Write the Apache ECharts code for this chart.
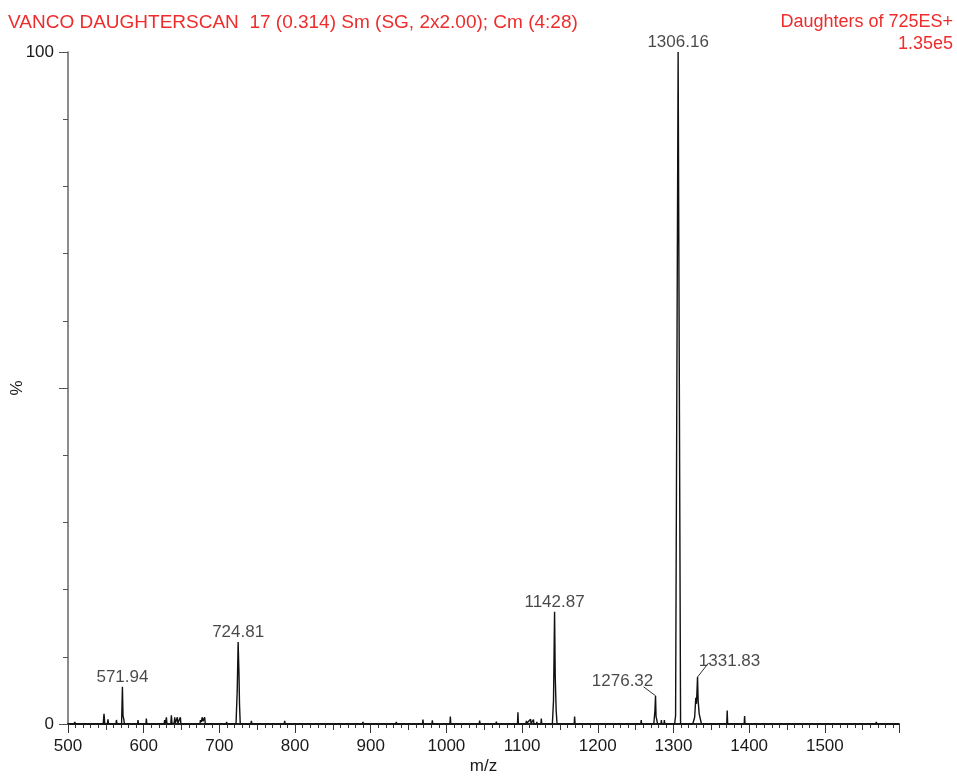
<!DOCTYPE html>
<html>
<head>
<meta charset="utf-8">
<script src="https://cdn.jsdelivr.net/npm/echarts@6/dist/echarts.min.js"></script>
<style>
  html, body { margin: 0; padding: 0; background: #fff; }
  #chart { width: 957px; height: 778px; }
</style>
</head>
<body>
<div id="chart"></div>
<script>
// profile of the daughter scan: m/z and relative intensity (%)
var profileMz = [
  500,
  508, 509, 510,
  520, 520.6, 521.2,
  533, 533.5, 534,
  546.5, 547.6, 548.6,
  552, 552.8, 553.6,
  563.3, 564, 564.8,
  570.8, 571.9, 572.7, 573.6, 574.6,
  592, 592.5, 593.1,
  603, 603.5, 604.2,
  615, 615.5, 616,
  627, 627.7, 628.8, 630, 630.8,
  635.8, 636.6, 637.4, 640.3, 641, 641.7, 643.8, 644.5, 645.2, 647.8, 648.5, 649.2,
  660, 660.5, 661,
  674.3, 675, 676, 677.5, 678.5, 680.6, 681.4,
  695, 695.5, 696,
  709, 709.6, 710.2,
  722, 723.6, 724.8, 725.9, 726.6, 727.6,
  741.6, 742.3, 743,
  751.5, 752, 752.5,
  765, 765.5, 766,
  785.7, 786.3, 787,
  800, 800.5, 801,
  820, 820.5, 821,
  840, 840.5, 841,
  865, 865.5, 866,
  889, 889.7, 890.3,
  910, 910.5, 911,
  933.2, 933.8, 934.4,
  950, 950.5, 951,
  968.4, 969, 969.6,
  980.8, 981.4, 982,
  990, 990.5, 991,
  1004.6, 1005.2, 1005.8,
  1020, 1020.5, 1021,
  1030, 1030.5, 1031,
  1043.3, 1043.9, 1044.5,
  1055, 1055.5, 1056,
  1065.4, 1066, 1066.6,
  1080, 1080.5, 1081,
  1093.9, 1094.5, 1095.1,
  1105, 1105.6, 1106.2, 1111.2, 1111.8, 1115, 1115.6,
  1119, 1119.5, 1120,
  1124.8, 1125.4, 1126,
  1132, 1132.5, 1133,
  1140, 1141.5, 1142.9, 1143.8, 1145, 1146.2,
  1155, 1155.5, 1156,
  1168.8, 1169.4, 1170,
  1185, 1185.5, 1186,
  1200, 1200.5, 1201,
  1215, 1215.5, 1216,
  1230, 1230.5, 1231,
  1245, 1245.5, 1246,
  1256.8, 1257.4, 1258,
  1265, 1265.5, 1266,
  1274, 1275.5, 1276.3, 1277, 1278, 1279,
  1283.4, 1284, 1284.6, 1287.4, 1288, 1288.6,
  1294, 1294.5, 1295,
  1301.5, 1302.8, 1306.16, 1309.4,
  1316, 1316.5, 1317,
  1325.5, 1328, 1329.5, 1330.4, 1331.8, 1332.6, 1334, 1337,
  1350, 1350.5, 1351,
  1370.4, 1371, 1371.6,
  1382, 1382.5, 1383,
  1393.4, 1394, 1394.6,
  1410, 1410.5, 1411,
  1425, 1425.5, 1426,
  1440, 1440.5, 1441,
  1460, 1460.5, 1461,
  1480, 1480.5, 1481,
  1500, 1500.5, 1501,
  1520, 1520.5, 1521,
  1540, 1540.5, 1541,
  1555, 1555.5, 1556,
  1567.4, 1568, 1568.6,
  1580, 1580.5, 1581,
  1598
];
var profilePct = [
  0,
  0, 0.3, 0,
  0, 0.2, 0,
  0, 0.15, 0,
  0, 1.5, 0,
  0, 0.7, 0,
  0, 0.6, 0,
  0, 5.55, 1.2, 0.8, 0,
  0, 0.6, 0,
  0, 0.8, 0,
  0, 0.2, 0,
  0, 0.6, 0.1, 1.0, 0,
  0, 1.3, 0.1, 0.1, 1.0, 0.1, 0.1, 1.0, 0.1, 0.1, 1.0, 0,
  0, 0.2, 0,
  0, 0.6, 0.3, 1.0, 0.4, 1.0, 0,
  0, 0.2, 0,
  0, 0.3, 0,
  0, 5.0, 12.2, 7.6, 3.0, 0,
  0, 0.45, 0,
  0, 0.25, 0,
  0, 0.2, 0,
  0, 0.45, 0,
  0, 0.15, 0,
  0, 0.2, 0,
  0, 0.15, 0,
  0, 0.25, 0,
  0, 0.3, 0,
  0, 0.15, 0,
  0, 0.3, 0,
  0, 0.15, 0,
  0, 0.65, 0,
  0, 0.55, 0,
  0, 0.2, 0,
  0, 1.1, 0,
  0, 0.2, 0,
  0, 0.15, 0,
  0, 0.5, 0,
  0, 0.2, 0,
  0, 0.35, 0,
  0, 0.2, 0,
  0, 1.75, 0,
  0, 0.45, 0.1, 0.7, 0.1, 0.65, 0,
  0, 0.3, 0,
  0, 0.8, 0,
  0, 0.2, 0,
  0, 3.5, 16.7, 7.0, 2.0, 0,
  0, 0.2, 0,
  0, 1.1, 0,
  0, 0.2, 0,
  0, 0.15, 0,
  0, 0.2, 0,
  0, 0.15, 0,
  0, 0.2, 0,
  0, 0.6, 0,
  0, 0.2, 0,
  0, 2.0, 4.2, 1.1, 0.6, 0,
  0, 0.6, 0, 0, 0.6, 0,
  0, 0.2, 0,
  0, 1.2, 100, 0,
  0, 0.2, 0,
  0, 1.0, 3.9, 3.0, 7.0, 3.5, 1.5, 0,
  0, 0.15, 0,
  0, 2.0, 0,
  0, 0.2, 0,
  0, 1.2, 0,
  0, 0.2, 0,
  0, 0.15, 0,
  0, 0.2, 0,
  0, 0.15, 0,
  0, 0.2, 0,
  0, 0.15, 0,
  0, 0.2, 0,
  0, 0.15, 0,
  0, 0.2, 0,
  0, 0.3, 0,
  0, 0.15, 0,
  0
];

// labelled peaks
var peakMz = [571.94, 724.81, 1142.87, 1276.32, 1306.16, 1331.83];
var peakPct = [5.55, 12.2, 16.7, 4.2, 100, 7.0];
var peakText = ['571.94', '724.81', '1142.87', '1276.32', '1306.16', '1331.83'];

var yLabels = { 0: '0', 100: '100' };

var FONT = "'Liberation Sans', Arial, Helvetica, sans-serif";
var RED = '#ee2c2c';
var INK = '#1a1a1a';

var profile = profileMz.map(function (mz, i) { return [mz, profilePct[i]]; });

// labels that sit to the side, with a leader line (pixel offsets from the apex)
var shifted = {
  '1276.32': { dx: -33, dy: -5, lx: -12, ly: -9 },
  '1331.83': { dx: 32, dy: -6, lx: 11, ly: -14 }
};

var peaks = peakMz.map(function (mz, i) {
  return { value: [mz, peakPct[i]], name: peakText[i] };
});

var chart = echarts.init(document.getElementById('chart'));

var option = {
  animation: false,
  backgroundColor: '#fff',
  textStyle: { fontFamily: FONT },
  title: [
    {
      text: 'VANCO DAUGHTERSCAN  17 (0.314) Sm (SG, 2x2.00); Cm (4:28)',
      left: 8, top: 13, padding: 0,
      textStyle: { color: RED, fontSize: 19, fontWeight: 'normal', fontFamily: FONT }
    },
    {
      text: 'Daughters of 725ES+',
      right: 4, top: 13, padding: 0,
      textStyle: { color: RED, fontSize: 18, fontWeight: 'normal', fontFamily: FONT }
    },
    {
      text: '1.35e5',
      right: 4, top: 35, padding: 0,
      textStyle: { color: RED, fontSize: 18, fontWeight: 'normal', fontFamily: FONT }
    }
  ],
  grid: { left: 68, right: 58, top: 52, bottom: 54, containLabel: false, outerBoundsMode: 'none' },
  xAxis: [
    {
      type: 'value',
      min: 500,
      max: 1598,
      interval: 100,
      name: 'm/z',
      nameLocation: 'middle',
      nameGap: 34,
      nameMoveOverlap: false,
      nameTextStyle: { color: INK, fontSize: 17, fontFamily: FONT },
      axisLine: { show: true, onZero: false, lineStyle: { color: '#222', width: 2 } },
      axisTick: { show: true, inside: false, length: 9, lineStyle: { color: '#333', width: 1 } },
      minorTick: { show: true, splitNumber: 10, length: 4, lineStyle: { color: '#333', width: 1 } },
      axisLabel: {
        color: INK, fontSize: 17, fontFamily: FONT, margin: 14,
        showMaxLabel: false,
        formatter: function (v) { return v % 100 === 0 && v <= 1500 ? String(v) : ''; }
      },
      splitLine: { show: false }
    },
    {
      // half-way ticks at every 50
      type: 'value',
      min: 500,
      max: 1598,
      interval: 50,
      position: 'bottom',
      axisLine: { show: false },
      axisTick: { show: true, length: 6, lineStyle: { color: '#333', width: 1 } },
      axisLabel: { show: false },
      splitLine: { show: false }
    }
  ],
  yAxis: {
    type: 'value',
    min: 0,
    max: 100,
    interval: 50,
    name: '%',
    nameLocation: 'middle',
    nameGap: 42,
    nameMoveOverlap: false,
    nameTextStyle: { color: INK, fontSize: 17, fontFamily: FONT },
    axisLine: { show: true, lineStyle: { color: '#666', width: 1.5 } },
    axisTick: { show: true, length: 9, lineStyle: { color: '#555', width: 1 } },
    minorTick: { show: true, splitNumber: 5, length: 5, lineStyle: { color: '#555', width: 1 } },
    axisLabel: {
      color: INK, fontSize: 17, fontFamily: FONT, margin: 14,
      formatter: function (v) { return yLabels[v] !== undefined ? yLabels[v] : ''; }
    },
    splitLine: { show: false }
  },
  series: [
    {
      type: 'line',
      data: profile,
      showSymbol: false,
      symbol: 'none',
      sampling: 'none',
      lineStyle: { color: '#111', width: 1.4 },
      z: 3
    },
    {
      type: 'scatter',
      data: peaks,
      symbolSize: 0,
      silent: true,
      z: 4,
      label: {
        show: true,
        position: 'top',
        distance: 1,
        color: INK,
        fontSize: 17,
        fontFamily: FONT,
        formatter: function (p) { return p.name; }
      },
      labelLayout: function (params) {
        var s = shifted[params.text];
        return s ? { dx: s.dx, dy: s.dy } : {};
      }
    }
  ]
};

chart.setOption(option);

// leader lines for the side labels, anchored on the apex through the axis scales
var leaders = [];
peakText.forEach(function (t, i) {
  var s = shifted[t];
  if (!s) return;
  var p = chart.convertToPixel({ xAxisIndex: 0, yAxisIndex: 0 }, [peakMz[i], peakPct[i]]);
  leaders.push({
    type: 'line',
    silent: true,
    z: 5,
    shape: { x1: p[0], y1: p[1], x2: p[0] + s.lx, y2: p[1] + s.ly },
    style: { stroke: '#333', lineWidth: 1 }
  });
});
chart.setOption({ graphic: leaders });
</script>
</body>
</html>
